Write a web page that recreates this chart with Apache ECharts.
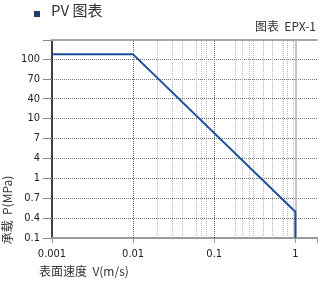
<!DOCTYPE html>
<html><head><meta charset="utf-8">
<script src="https://cdn.jsdelivr.net/npm/echarts@6/dist/echarts.min.js"></script>
<style>html,body{margin:0;padding:0;background:#fff}#c{width:320px;height:284px}</style>
</head><body><div id="c"></div>
<script>
// Data
var velocity = [0.001, 0.01, 1, 1];          // V (m/s)
var pressure = [119, 119, 0.275, 0.1];      // P on the chart's log scale
var yTickLabels = ['0.1', '0.4', '0.7', '1', '4', '7', '10', '40', '70', '100'];
var xDecadeLines = [0.01, 0.1];
var xMinorLines = [0.018, 0.023, 0.027, 0.03, 0.045, 0.06, 0.07, 0.077, 0.095,
                   0.18, 0.22, 0.27, 0.3, 0.4, 0.52, 0.7, 0.8, 0.93];
var xSolidLines = [1];

var FONT = "'Liberation Sans Narrow', 'DejaVu Sans Condensed', 'Noto Sans', sans-serif";
var CJK = "'Noto Sans CJK SC', 'Noto Sans', sans-serif";

var lineData = velocity.map(function (v, i) { return [v, pressure[i]]; });
var vLines = [];
xMinorLines.forEach(function (v) { vLines.push({ xAxis: v, lineStyle: { color: '#b5b5b5', type: 'dotted', width: 1 } }); });
xDecadeLines.forEach(function (v) { vLines.push({ xAxis: v, lineStyle: { color: '#666', type: 'dotted', width: 1 } }); });
xSolidLines.forEach(function (v) { vLines.push({ xAxis: v, lineStyle: { color: '#b0b0b0', type: 'solid', width: 1.5 } }); });

function isPow(v, base3) {
  var l = Math.log10(v) * (base3 ? 3 : 1);
  return Math.abs(l - Math.round(l)) < 1e-6;
}

var chart = echarts.init(document.getElementById('c'), null, { renderer: 'canvas' });
chart.setOption({
  animation: false,
  grid: { left: 52, right: 1, top: 40, bottom: 46, containLabel: false },
  graphic: [
    { type: 'rect', left: 34, top: 11, shape: { width: 6, height: 6 }, style: { fill: '#1f3a6e' } },
    { type: 'text', left: 51, top: 3, style: { text: 'PV 图表', font: '15px ' + CJK, fill: '#333' } },
    { type: 'text', right: 4, top: 20, style: { text: '图表  EPX-1', font: '12px ' + CJK, fill: '#333' } },
    { type: 'text', left: 39, top: 265, style: { text: '表面速度  V(m/s)', font: '12px ' + CJK, fill: '#333' } },
    { type: 'text', x: 7, y: 210, rotation: Math.PI / 2,
      style: { text: '承载  P(MPa)', font: '12px ' + CJK, fill: '#333', align: 'center', verticalAlign: 'middle' } }
  ],
  xAxis: [{
    type: 'log', logBase: 10, min: 0.001, max: 1.85,
    axisLine: { show: true, lineStyle: { color: '#9a9a9a', width: 2 } },
    axisTick: { show: true, length: 5, lineStyle: { color: '#999' } },
    axisLabel: { margin: 11, color: '#222', fontSize: 11, fontFamily: FONT,
      formatter: function (v) { return isPow(v, false) ? String(v) : ''; } },
    splitLine: { show: false },
    minorTick: { show: false }
  }, {
    type: 'log', logBase: 10, min: 0.001, max: 1.85, position: 'top',
    axisLine: { show: true, lineStyle: { color: '#a8a8a8', width: 2 } },
    axisTick: { show: false }, axisLabel: { show: false }, splitLine: { show: false }
  }],
  yAxis: {
    type: 'log', logBase: Math.cbrt(10), min: 0.1, max: 207,
    axisLine: { show: true, onZero: false, lineStyle: { color: '#000', width: 1.5 } },
    axisTick: { show: true, length: 9, lineStyle: { color: '#888' } },
    axisLabel: { margin: 12, color: '#222', fontSize: 11, fontFamily: FONT,
      formatter: function (v) {
        if (!isPow(v, true)) return '';
        var i = Math.round(Math.log10(v) * 3) + 3;
        return yTickLabels[i] || '';
      } },
    splitLine: { show: true, lineStyle: { color: '#777', type: 'dotted', width: 1 } }
  },
  series: [{
    type: 'line', data: [], z: 1, silent: true,
    markLine: { silent: true, symbol: 'none', label: { show: false }, animation: false, data: vLines }
  }, {
    type: 'line', data: lineData, z: 5, symbol: 'none', silent: true,
    lineStyle: { color: '#1d4f9e', width: 2 }
  }]
});
</script></body></html>
